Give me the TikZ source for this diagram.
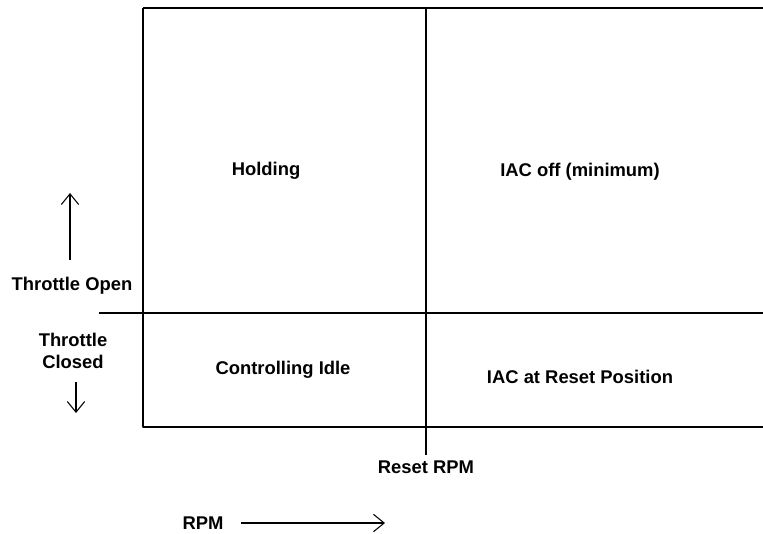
\documentclass[tikz,border=0pt]{standalone}
\usepackage{fontspec}
\setmainfont{Liberation Sans}
\usetikzlibrary{arrows.meta}

\begin{document}
\begin{tikzpicture}[line join=round,x=0.75pt,y=-0.75pt,>={Straight Barb[length=8pt,width=13pt]},
  lbl/.style={font=\bfseries\fontsize{13.8}{17}\selectfont,inner sep=0pt,align=center}]

\useasboundingbox (0,0) rectangle (763,533);

\draw[line width=1pt] (143,8) -- (763,8);
\draw[line width=1pt] (143,8) -- (143,427) -- (763,427);
\draw[line width=1pt] (99,313) -- (763,313);
\draw[line width=1pt] (426,8) -- (426,455);

\node[lbl] (holding) at (266,171) {Holding};
\node[lbl] (iacoff) at (580,172) {IAC off (minimum)};
\node[lbl] (ctrlidle) at (283,370) {Controlling Idle};
\node[lbl] (iacreset) at (580,377) {IAC at Reset Position};

\node[lbl] (open) at (72,286) {Throttle Open};
\node[lbl] (closed) at (73,351) {Throttle\\Closed};
\node[lbl] (resetrpm) at (426,467) {Reset RPM};
\node[lbl] (rpm) at (203,523) {RPM};

\coordinate (uptail) at (70,260);
\coordinate (uphead) at (70,193);
\coordinate (downtail) at (76,382);
\coordinate (downhead) at (76,413);
\coordinate (rpmhead) at (385,523);

\draw[->,line width=0.8pt] (uptail) -- (uphead);
\draw[->,line width=0.8pt] (downtail) -- (downhead);
\draw[->,line width=0.8pt] ([xshift=13pt]rpm.east) -- (rpmhead);

\end{tikzpicture}
\end{document}
